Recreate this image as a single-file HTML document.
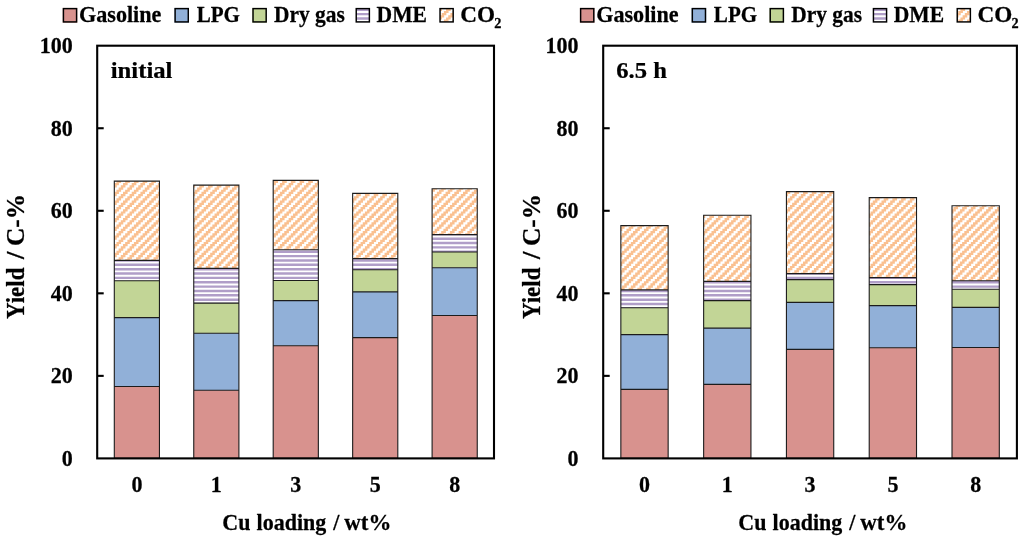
<!DOCTYPE html>
<html><head><meta charset="utf-8"><title>Yield vs Cu loading</title>
<style>
html,body{margin:0;padding:0;background:#fff;}
body{width:1024px;height:537px;overflow:hidden;}
svg{display:block;will-change:transform;}
text{font-family:"Liberation Serif",serif;font-weight:bold;fill:#000;stroke:#000;stroke-width:0.25px;stroke-linejoin:round;}
.t22{font-size:22px;}
.t24{font-size:24.3px;}
.t14{font-size:14.3px;}
</style></head><body>
<svg width="1024" height="537" viewBox="0 0 1024 537">
<defs>
<clipPath id="cco2l">
<rect x="440.00" y="8.60" width="13.20" height="13.35"/>
<rect x="957.20" y="8.60" width="13.20" height="13.35"/>
</clipPath>
<clipPath id="cdmel">
<rect x="356.20" y="8.60" width="13.20" height="13.35"/>
<rect x="873.40" y="8.60" width="13.20" height="13.35"/>
</clipPath>
<clipPath id="cco2">
<rect x="114.30" y="181.10" width="45.15" height="79.30"/>
<rect x="193.75" y="185.10" width="45.15" height="83.30"/>
<rect x="273.20" y="180.40" width="45.15" height="69.40"/>
<rect x="352.65" y="193.40" width="45.15" height="65.20"/>
<rect x="432.10" y="188.70" width="45.15" height="45.90"/>
<rect x="620.85" y="225.60" width="47.30" height="64.30"/>
<rect x="703.64" y="215.30" width="47.30" height="66.10"/>
<rect x="786.43" y="191.60" width="47.30" height="82.00"/>
<rect x="869.22" y="197.60" width="47.30" height="80.00"/>
<rect x="952.01" y="205.80" width="47.30" height="75.00"/>
</clipPath>
<clipPath id="cdme">
<rect x="114.30" y="260.40" width="45.15" height="20.30"/>
<rect x="193.75" y="268.40" width="45.15" height="34.70"/>
<rect x="273.20" y="249.80" width="45.15" height="30.70"/>
<rect x="352.65" y="258.60" width="45.15" height="11.10"/>
<rect x="432.10" y="234.60" width="45.15" height="17.40"/>
<rect x="620.85" y="289.90" width="47.30" height="17.80"/>
<rect x="703.64" y="281.40" width="47.30" height="19.20"/>
<rect x="786.43" y="273.60" width="47.30" height="6.00"/>
<rect x="869.22" y="277.60" width="47.30" height="7.00"/>
<rect x="952.01" y="280.80" width="47.30" height="8.50"/>
</clipPath>
</defs>
<rect x="0" y="0" width="1024" height="537" fill="#fff"/>
<rect x="114.30" y="280.70" width="45.15" height="36.90" fill="#C2D596"/>
<rect x="114.30" y="317.60" width="45.15" height="68.90" fill="#91B0D8"/>
<rect x="114.30" y="386.50" width="45.15" height="71.90" fill="#D8928E"/>
<rect x="193.75" y="303.10" width="45.15" height="30.10" fill="#C2D596"/>
<rect x="193.75" y="333.20" width="45.15" height="57.10" fill="#91B0D8"/>
<rect x="193.75" y="390.30" width="45.15" height="68.10" fill="#D8928E"/>
<rect x="273.20" y="280.50" width="45.15" height="20.10" fill="#C2D596"/>
<rect x="273.20" y="300.60" width="45.15" height="45.20" fill="#91B0D8"/>
<rect x="273.20" y="345.80" width="45.15" height="112.60" fill="#D8928E"/>
<rect x="352.65" y="269.70" width="45.15" height="22.20" fill="#C2D596"/>
<rect x="352.65" y="291.90" width="45.15" height="45.70" fill="#91B0D8"/>
<rect x="352.65" y="337.60" width="45.15" height="120.80" fill="#D8928E"/>
<rect x="432.10" y="252.00" width="45.15" height="15.70" fill="#C2D596"/>
<rect x="432.10" y="267.70" width="45.15" height="47.80" fill="#91B0D8"/>
<rect x="432.10" y="315.50" width="45.15" height="142.90" fill="#D8928E"/>
<rect x="62.70" y="7.90" width="14.60" height="14.75" fill="#D8928E"/>
<rect x="174.40" y="7.90" width="14.60" height="14.75" fill="#91B0D8"/>
<rect x="252.30" y="7.90" width="14.60" height="14.75" fill="#C2D596"/>
<rect x="620.85" y="307.70" width="47.30" height="26.90" fill="#C2D596"/>
<rect x="620.85" y="334.60" width="47.30" height="54.80" fill="#91B0D8"/>
<rect x="620.85" y="389.40" width="47.30" height="69.00" fill="#D8928E"/>
<rect x="703.64" y="300.60" width="47.30" height="27.50" fill="#C2D596"/>
<rect x="703.64" y="328.10" width="47.30" height="56.30" fill="#91B0D8"/>
<rect x="703.64" y="384.40" width="47.30" height="74.00" fill="#D8928E"/>
<rect x="786.43" y="279.60" width="47.30" height="22.80" fill="#C2D596"/>
<rect x="786.43" y="302.40" width="47.30" height="47.00" fill="#91B0D8"/>
<rect x="786.43" y="349.40" width="47.30" height="109.00" fill="#D8928E"/>
<rect x="869.22" y="284.60" width="47.30" height="21.00" fill="#C2D596"/>
<rect x="869.22" y="305.60" width="47.30" height="42.20" fill="#91B0D8"/>
<rect x="869.22" y="347.80" width="47.30" height="110.60" fill="#D8928E"/>
<rect x="952.01" y="289.30" width="47.30" height="18.10" fill="#C2D596"/>
<rect x="952.01" y="307.40" width="47.30" height="40.10" fill="#91B0D8"/>
<rect x="952.01" y="347.50" width="47.30" height="110.90" fill="#D8928E"/>
<rect x="579.90" y="7.90" width="14.60" height="14.75" fill="#D8928E"/>
<rect x="691.60" y="7.90" width="14.60" height="14.75" fill="#91B0D8"/>
<rect x="769.50" y="7.90" width="14.60" height="14.75" fill="#C2D596"/>
<path clip-path="url(#cdme)" fill="#B09EC8" d="M0 2.055H1024V4.484H0ZM0 6.414H1024V8.843H0ZM0 10.773H1024V13.203H0ZM0 15.132H1024V17.562H0ZM0 19.491H1024V21.921H0ZM0 23.851H1024V26.280H0ZM0 28.210H1024V30.639H0ZM0 32.569H1024V34.999H0ZM0 36.928H1024V39.358H0ZM0 41.287H1024V43.717H0ZM0 45.647H1024V48.076H0ZM0 50.006H1024V52.435H0ZM0 54.365H1024V56.795H0ZM0 58.724H1024V61.154H0ZM0 63.083H1024V65.513H0ZM0 67.443H1024V69.872H0ZM0 71.802H1024V74.231H0ZM0 76.161H1024V78.591H0ZM0 80.520H1024V82.950H0ZM0 84.879H1024V87.309H0ZM0 89.239H1024V91.668H0ZM0 93.598H1024V96.027H0ZM0 97.957H1024V100.387H0ZM0 102.316H1024V104.746H0ZM0 106.675H1024V109.105H0ZM0 111.035H1024V113.464H0ZM0 115.394H1024V117.823H0ZM0 119.753H1024V122.183H0ZM0 124.112H1024V126.542H0ZM0 128.471H1024V130.901H0ZM0 132.831H1024V135.260H0ZM0 137.190H1024V139.619H0ZM0 141.549H1024V143.979H0ZM0 145.908H1024V148.338H0ZM0 150.267H1024V152.697H0ZM0 154.627H1024V157.056H0ZM0 158.986H1024V161.415H0ZM0 163.345H1024V165.775H0ZM0 167.704H1024V170.134H0ZM0 172.063H1024V174.493H0ZM0 176.423H1024V178.852H0ZM0 180.782H1024V183.211H0ZM0 185.141H1024V187.571H0ZM0 189.500H1024V191.930H0ZM0 193.859H1024V196.289H0ZM0 198.219H1024V200.648H0ZM0 202.578H1024V205.007H0ZM0 206.937H1024V209.367H0ZM0 211.296H1024V213.726H0ZM0 215.655H1024V218.085H0ZM0 220.015H1024V222.444H0ZM0 224.374H1024V226.803H0ZM0 228.733H1024V231.163H0ZM0 233.092H1024V235.522H0ZM0 237.451H1024V239.881H0ZM0 241.811H1024V244.240H0ZM0 246.170H1024V248.599H0ZM0 250.529H1024V252.959H0ZM0 254.888H1024V257.318H0ZM0 259.247H1024V261.677H0ZM0 263.607H1024V266.036H0ZM0 267.966H1024V270.395H0ZM0 272.325H1024V274.755H0ZM0 276.684H1024V279.114H0ZM0 281.043H1024V283.473H0ZM0 285.403H1024V287.832H0ZM0 289.762H1024V292.191H0ZM0 294.121H1024V296.551H0ZM0 298.480H1024V300.910H0ZM0 302.839H1024V305.269H0ZM0 307.199H1024V309.628H0ZM0 311.558H1024V313.987H0ZM0 315.917H1024V318.347H0ZM0 320.276H1024V322.706H0ZM0 324.635H1024V327.065H0ZM0 328.995H1024V331.424H0ZM0 333.354H1024V335.783H0ZM0 337.713H1024V340.143H0ZM0 342.072H1024V344.502H0ZM0 346.431H1024V348.861H0ZM0 350.791H1024V353.220H0ZM0 355.150H1024V357.579H0ZM0 359.509H1024V361.939H0ZM0 363.868H1024V366.298H0ZM0 368.227H1024V370.657H0ZM0 372.587H1024V375.016H0ZM0 376.946H1024V379.375H0ZM0 381.305H1024V383.735H0ZM0 385.664H1024V388.094H0ZM0 390.023H1024V392.453H0ZM0 394.383H1024V396.812H0ZM0 398.742H1024V401.171H0ZM0 403.101H1024V405.531H0ZM0 407.460H1024V409.890H0ZM0 411.819H1024V414.249H0ZM0 416.179H1024V418.608H0ZM0 420.538H1024V422.967H0ZM0 424.897H1024V427.327H0ZM0 429.256H1024V431.686H0ZM0 433.615H1024V436.045H0ZM0 437.975H1024V440.404H0ZM0 442.334H1024V444.763H0ZM0 446.693H1024V449.123H0ZM0 451.052H1024V453.482H0ZM0 455.411H1024V457.841H0ZM0 459.771H1024V462.200H0ZM0 464.130H1024V466.559H0ZM0 468.489H1024V470.919H0ZM0 472.848H1024V475.278H0ZM0 477.207H1024V479.637H0ZM0 481.567H1024V483.996H0ZM0 485.926H1024V488.355H0ZM0 490.285H1024V492.715H0ZM0 494.644H1024V497.074H0ZM0 499.003H1024V501.433H0ZM0 503.363H1024V505.792H0ZM0 507.722H1024V510.151H0ZM0 512.081H1024V514.511H0ZM0 516.440H1024V518.870H0ZM0 520.799H1024V523.229H0ZM0 525.159H1024V527.588H0ZM0 529.518H1024V531.947H0ZM0 533.877H1024V536.307H0Z"/>
<defs><path id="st" d="M-0.15 0v2.1796h-2.1796v2.1796h-2.1796v2.1796h-2.1796v2.1796h-2.1796v2.1796h-2.1796v2.1796h-2.1796v2.1796h-2.1796v2.1796h-2.1796v2.1796h-2.1796v2.1796h-2.1796v2.1796h-2.1796v2.1796h-2.1796v2.1796h-2.1796v2.1796h-2.1796v2.1796h-2.1796v2.1796h-2.1796v2.1796h-2.1796v2.1796h-2.1796v2.1796h-2.1796v2.1796h-2.1796v2.1796h-2.1796v2.1796h-2.1796v2.1796h-2.1796v2.1796h-2.1796v2.1796h-2.1796v2.1796h-2.1796v2.1796h-2.1796v2.1796h-2.1796v2.1796h-2.1796v2.1796h-2.1796v2.1796h-2.1796v2.1796h-2.1796v2.1796h-2.1796v2.1796h-2.1796v2.1796h-2.1796v2.1796h-2.1796v2.1796h-2.1796v2.1796h-2.1796v2.1796h-2.1796v2.1796h-2.1796v2.1796h-2.1796v2.1796h-2.1796v2.1796h-2.1796v2.1796h-2.1796v2.1796h-2.1796v2.1796h-2.1796v2.1796h-2.1796v2.1796h-2.1796v2.1796h-2.1796v2.1796h-2.1796v2.1796h-2.1796v2.1796h-2.1796v2.1796h-2.1796v2.1796h-2.1796v2.1796h-2.1796v2.1796h-2.1796v2.1796h-2.1796v2.1796h-2.1796v2.1796h-2.1796v2.1796h-2.1796v2.1796h-2.1796v2.1796h-2.1796v2.1796h-2.1796v2.1796h-2.1796v2.1796h-2.1796v2.1796h-2.1796v2.1796h-2.1796v2.1796h-2.1796v2.1796h-2.1796v2.1796h-2.1796v2.1796h-2.1796v2.1796h-2.1796v2.1796h-2.1796v2.1796h-2.1796v2.1796h-2.1796v2.1796h-2.1796v2.1796h-2.1796v2.1796h-2.1796v2.1796h-2.1796v2.1796h-2.1796v2.1796h-2.1796v2.1796h-2.1796v2.1796h-2.1796v2.1796h-2.1796v2.1796h-2.1796v2.1796h-2.1796v2.1796h-2.1796v2.1796h-2.1796v2.1796h-2.1796v2.1796h-2.1796v2.1796h-2.1796v2.1796h-2.1796v2.1796h-2.1796v2.1796h-2.1796v2.1796h-2.1796v2.1796h-2.1796v2.1796h-2.1796v2.1796h-2.1796v2.1796h-2.1796v2.1796h-2.1796v2.1796h-2.1796v2.1796h-2.1796v2.1796h-2.1796v2.1796h-2.1796v2.1796h-2.1796v2.1796h-2.1796v2.1796h-2.1796v2.1796h-2.1796v2.1796h-2.1796v2.1796h-2.1796v2.1796h-2.1796v2.1796h-2.1796v2.1796h-2.1796v2.1796h-2.1796v2.1796h-2.1796v2.1796h-2.1796v2.1796h-2.1796v2.1796h-2.1796v2.1796h-2.1796v2.1796h-2.1796v2.1796h-2.1796v2.1796h-2.1796v2.1796h-2.1796v2.1796h-2.1796v2.1796h-2.1796v2.1796h-2.1796v2.1796h-2.1796v2.1796h-2.1796v2.1796h-2.1796v2.1796h-2.1796v2.1796h-2.1796v2.1796h-2.1796v2.1796h-2.1796v2.1796h-2.1796v2.1796h-2.1796v2.1796h-2.1796v2.1796h-2.1796v2.1796h-2.1796v2.1796h-2.1796v2.1796h-2.1796v2.1796h-2.1796v2.1796h-2.1796v2.1796h-2.1796v2.1796h-2.1796v2.1796h-2.1796v2.1796h-2.1796v2.1796h-2.1796v2.1796h-2.1796v2.1796h-2.1796v2.1796h-2.1796v2.1796h-2.1796v2.1796h-2.1796v2.1796h-2.1796v2.1796h-2.1796v2.1796h-2.1796v2.1796h-2.1796v2.1796h-2.1796v2.1796h-2.1796v2.1796h-2.1796v2.1796h-2.1796v2.1796h-2.1796v2.1796h-2.1796v2.1796h-2.1796v2.1796h-2.1796v2.1796h-2.1796v2.1796h-2.1796v2.1796h-2.1796v2.1796h-2.1796v2.1796h-2.1796v2.1796h-2.1796v2.1796h-2.1796v2.1796h-2.1796v2.1796h-2.1796v2.1796h-2.1796v2.1796h-2.1796v2.1796h-2.1796v2.1796h-2.1796v2.1796h-2.1796v2.1796h-2.1796v2.1796h-2.1796v2.1796h-2.1796v2.1796h-2.1796v2.1796h-2.1796v2.1796h-2.1796v2.1796h-2.1796v2.1796h-2.1796v2.1796h-2.1796v2.1796h-2.1796v2.1796h-2.1796v2.1796h-2.1796v2.1796h-2.1796v2.1796h-2.1796v2.1796h-2.1796v2.1796h-2.1796v2.1796h-2.1796v2.1796h-2.1796v2.1796h-2.1796v2.1796h-2.1796v2.1796h-2.1796v2.1796h-2.1796v2.1796h-2.1796v2.1796h-2.1796v2.1796h-2.1796v2.1796h-2.1796v2.1796h-2.1796v2.1796h-2.1796v2.1796h-2.1796v2.1796h-2.1796v2.1796h-2.1796v2.1796h-2.1796v2.1796h-2.1796v2.1796h-2.1796v2.1796h-2.1796v2.1796h-2.1796v2.1796h-2.1796v2.1796h-2.1796v2.1796h-2.1796v2.1796h-2.1796v2.1796h-2.1796v2.1796h-2.1796v2.1796h-2.1796v2.1796h-2.1796v2.1796h-2.1796v2.1796h-2.1796v2.1796h-2.1796v2.1796h-2.1796v2.1796h-2.1796v2.1796h-2.1796v2.1796h-2.1796v2.1796h-2.1796v2.1796h-2.1796v2.1796h-2.1796v2.1796h-2.1796v2.1796h-2.1796v2.1796h-2.1796v2.1796h-2.1796v2.1796h-2.1796v2.1796h-2.1796v2.1796h-2.1796v2.1796h-2.1796v2.1796h-2.1796v2.1796h-2.1796v2.1796h-2.1796v2.1796h-2.1796v2.1796h-2.1796v2.1796h-2.1796v2.1796h-2.1796v2.1796h4.6592v-2.1796h2.1796v-2.1796h2.1796v-2.1796h2.1796v-2.1796h2.1796v-2.1796h2.1796v-2.1796h2.1796v-2.1796h2.1796v-2.1796h2.1796v-2.1796h2.1796v-2.1796h2.1796v-2.1796h2.1796v-2.1796h2.1796v-2.1796h2.1796v-2.1796h2.1796v-2.1796h2.1796v-2.1796h2.1796v-2.1796h2.1796v-2.1796h2.1796v-2.1796h2.1796v-2.1796h2.1796v-2.1796h2.1796v-2.1796h2.1796v-2.1796h2.1796v-2.1796h2.1796v-2.1796h2.1796v-2.1796h2.1796v-2.1796h2.1796v-2.1796h2.1796v-2.1796h2.1796v-2.1796h2.1796v-2.1796h2.1796v-2.1796h2.1796v-2.1796h2.1796v-2.1796h2.1796v-2.1796h2.1796v-2.1796h2.1796v-2.1796h2.1796v-2.1796h2.1796v-2.1796h2.1796v-2.1796h2.1796v-2.1796h2.1796v-2.1796h2.1796v-2.1796h2.1796v-2.1796h2.1796v-2.1796h2.1796v-2.1796h2.1796v-2.1796h2.1796v-2.1796h2.1796v-2.1796h2.1796v-2.1796h2.1796v-2.1796h2.1796v-2.1796h2.1796v-2.1796h2.1796v-2.1796h2.1796v-2.1796h2.1796v-2.1796h2.1796v-2.1796h2.1796v-2.1796h2.1796v-2.1796h2.1796v-2.1796h2.1796v-2.1796h2.1796v-2.1796h2.1796v-2.1796h2.1796v-2.1796h2.1796v-2.1796h2.1796v-2.1796h2.1796v-2.1796h2.1796v-2.1796h2.1796v-2.1796h2.1796v-2.1796h2.1796v-2.1796h2.1796v-2.1796h2.1796v-2.1796h2.1796v-2.1796h2.1796v-2.1796h2.1796v-2.1796h2.1796v-2.1796h2.1796v-2.1796h2.1796v-2.1796h2.1796v-2.1796h2.1796v-2.1796h2.1796v-2.1796h2.1796v-2.1796h2.1796v-2.1796h2.1796v-2.1796h2.1796v-2.1796h2.1796v-2.1796h2.1796v-2.1796h2.1796v-2.1796h2.1796v-2.1796h2.1796v-2.1796h2.1796v-2.1796h2.1796v-2.1796h2.1796v-2.1796h2.1796v-2.1796h2.1796v-2.1796h2.1796v-2.1796h2.1796v-2.1796h2.1796v-2.1796h2.1796v-2.1796h2.1796v-2.1796h2.1796v-2.1796h2.1796v-2.1796h2.1796v-2.1796h2.1796v-2.1796h2.1796v-2.1796h2.1796v-2.1796h2.1796v-2.1796h2.1796v-2.1796h2.1796v-2.1796h2.1796v-2.1796h2.1796v-2.1796h2.1796v-2.1796h2.1796v-2.1796h2.1796v-2.1796h2.1796v-2.1796h2.1796v-2.1796h2.1796v-2.1796h2.1796v-2.1796h2.1796v-2.1796h2.1796v-2.1796h2.1796v-2.1796h2.1796v-2.1796h2.1796v-2.1796h2.1796v-2.1796h2.1796v-2.1796h2.1796v-2.1796h2.1796v-2.1796h2.1796v-2.1796h2.1796v-2.1796h2.1796v-2.1796h2.1796v-2.1796h2.1796v-2.1796h2.1796v-2.1796h2.1796v-2.1796h2.1796v-2.1796h2.1796v-2.1796h2.1796v-2.1796h2.1796v-2.1796h2.1796v-2.1796h2.1796v-2.1796h2.1796v-2.1796h2.1796v-2.1796h2.1796v-2.1796h2.1796v-2.1796h2.1796v-2.1796h2.1796v-2.1796h2.1796v-2.1796h2.1796v-2.1796h2.1796v-2.1796h2.1796v-2.1796h2.1796v-2.1796h2.1796v-2.1796h2.1796v-2.1796h2.1796v-2.1796h2.1796v-2.1796h2.1796v-2.1796h2.1796v-2.1796h2.1796v-2.1796h2.1796v-2.1796h2.1796v-2.1796h2.1796v-2.1796h2.1796v-2.1796h2.1796v-2.1796h2.1796v-2.1796h2.1796v-2.1796h2.1796v-2.1796h2.1796v-2.1796h2.1796v-2.1796h2.1796v-2.1796h2.1796v-2.1796h2.1796v-2.1796h2.1796v-2.1796h2.1796v-2.1796h2.1796v-2.1796h2.1796v-2.1796h2.1796v-2.1796h2.1796v-2.1796h2.1796v-2.1796h2.1796v-2.1796h2.1796v-2.1796h2.1796v-2.1796h2.1796v-2.1796h2.1796v-2.1796h2.1796v-2.1796h2.1796v-2.1796h2.1796v-2.1796h2.1796v-2.1796h2.1796v-2.1796h2.1796v-2.1796h2.1796v-2.1796h2.1796v-2.1796h2.1796v-2.1796h2.1796v-2.1796h2.1796v-2.1796h2.1796v-2.1796h2.1796v-2.1796h2.1796v-2.1796h2.1796v-2.1796h2.1796v-2.1796h2.1796v-2.1796h2.1796v-2.1796h2.1796v-2.1796h2.1796v-2.1796h2.1796v-2.1796h2.1796v-2.1796h2.1796v-2.1796h2.1796v-2.1796h2.1796v-2.1796h2.1796v-2.1796h2.1796v-2.1796h2.1796v-2.1796h2.1796v-2.1796h2.1796v-2.1796h2.1796v-2.1796h2.1796v-2.1796h2.1796v-2.1796h2.1796v-2.1796h2.1796v-2.1796h2.1796v-2.1796h2.1796v-2.1796h2.1796v-2.1796h2.1796v-2.1796h2.1796v-2.1796h2.1796v-2.1796h2.1796v-2.1796h2.1796v-2.1796h2.1796v-2.1796h2.1796v-2.1796h2.1796v-2.1796h2.1796v-2.1796h2.1796v-2.1796h2.1796v-2.1796h2.1796v-2.1796h2.1796v-2.1796h2.1796v-2.1796h2.1796v-2.1796h2.1796v-2.1796h2.1796v-2.1796h2.1796v-2.1796h2.1796v-2.1796h2.1796v-2.1796h2.1796v-2.1796h2.1796v-2.1796h2.1796v-2.1796h2.1796v-2.1796h2.1796v-2.1796h2.1796v-2.1796z"/></defs>
<g clip-path="url(#cco2)" fill="#FAC090">
<use href="#st" x="1.070"/>
<use href="#st" x="9.788"/>
<use href="#st" x="18.507"/>
<use href="#st" x="27.225"/>
<use href="#st" x="35.944"/>
<use href="#st" x="44.662"/>
<use href="#st" x="53.380"/>
<use href="#st" x="62.099"/>
<use href="#st" x="70.817"/>
<use href="#st" x="79.536"/>
<use href="#st" x="88.254"/>
<use href="#st" x="96.972"/>
<use href="#st" x="105.691"/>
<use href="#st" x="114.409"/>
<use href="#st" x="123.128"/>
<use href="#st" x="131.846"/>
<use href="#st" x="140.564"/>
<use href="#st" x="149.283"/>
<use href="#st" x="158.001"/>
<use href="#st" x="166.720"/>
<use href="#st" x="175.438"/>
<use href="#st" x="184.156"/>
<use href="#st" x="192.875"/>
<use href="#st" x="201.593"/>
<use href="#st" x="210.312"/>
<use href="#st" x="219.030"/>
<use href="#st" x="227.748"/>
<use href="#st" x="236.467"/>
<use href="#st" x="245.185"/>
<use href="#st" x="253.904"/>
<use href="#st" x="262.622"/>
<use href="#st" x="271.340"/>
<use href="#st" x="280.059"/>
<use href="#st" x="288.777"/>
<use href="#st" x="297.496"/>
<use href="#st" x="306.214"/>
<use href="#st" x="314.932"/>
<use href="#st" x="323.651"/>
<use href="#st" x="332.369"/>
<use href="#st" x="341.088"/>
<use href="#st" x="349.806"/>
<use href="#st" x="358.524"/>
<use href="#st" x="367.243"/>
<use href="#st" x="375.961"/>
<use href="#st" x="384.680"/>
<use href="#st" x="393.398"/>
<use href="#st" x="402.116"/>
<use href="#st" x="410.835"/>
<use href="#st" x="419.553"/>
<use href="#st" x="428.272"/>
<use href="#st" x="436.990"/>
<use href="#st" x="445.708"/>
<use href="#st" x="454.427"/>
<use href="#st" x="463.145"/>
<use href="#st" x="471.864"/>
<use href="#st" x="480.582"/>
<use href="#st" x="489.300"/>
<use href="#st" x="498.019"/>
<use href="#st" x="506.737"/>
<use href="#st" x="515.456"/>
<use href="#st" x="524.174"/>
<use href="#st" x="532.892"/>
<use href="#st" x="541.611"/>
<use href="#st" x="550.329"/>
<use href="#st" x="559.048"/>
<use href="#st" x="567.766"/>
<use href="#st" x="576.484"/>
<use href="#st" x="585.203"/>
<use href="#st" x="593.921"/>
<use href="#st" x="602.640"/>
<use href="#st" x="611.358"/>
<use href="#st" x="620.076"/>
<use href="#st" x="628.795"/>
<use href="#st" x="637.513"/>
<use href="#st" x="646.232"/>
<use href="#st" x="654.950"/>
<use href="#st" x="663.668"/>
<use href="#st" x="672.387"/>
<use href="#st" x="681.105"/>
<use href="#st" x="689.824"/>
<use href="#st" x="698.542"/>
<use href="#st" x="707.260"/>
<use href="#st" x="715.979"/>
<use href="#st" x="724.697"/>
<use href="#st" x="733.416"/>
<use href="#st" x="742.134"/>
<use href="#st" x="750.852"/>
<use href="#st" x="759.571"/>
<use href="#st" x="768.289"/>
<use href="#st" x="777.008"/>
<use href="#st" x="785.726"/>
<use href="#st" x="794.444"/>
<use href="#st" x="803.163"/>
<use href="#st" x="811.881"/>
<use href="#st" x="820.600"/>
<use href="#st" x="829.318"/>
<use href="#st" x="838.036"/>
<use href="#st" x="846.755"/>
<use href="#st" x="855.473"/>
<use href="#st" x="864.192"/>
<use href="#st" x="872.910"/>
<use href="#st" x="881.628"/>
<use href="#st" x="890.347"/>
<use href="#st" x="899.065"/>
<use href="#st" x="907.784"/>
<use href="#st" x="916.502"/>
<use href="#st" x="925.220"/>
<use href="#st" x="933.939"/>
<use href="#st" x="942.657"/>
<use href="#st" x="951.376"/>
<use href="#st" x="960.094"/>
<use href="#st" x="968.812"/>
<use href="#st" x="977.531"/>
<use href="#st" x="986.249"/>
<use href="#st" x="994.968"/>
<use href="#st" x="1003.686"/>
<use href="#st" x="1012.404"/>
<use href="#st" x="1021.123"/>
<use href="#st" x="1029.841"/>
<use href="#st" x="1038.560"/>
<use href="#st" x="1047.278"/>
<use href="#st" x="1055.996"/>
<use href="#st" x="1064.715"/>
<use href="#st" x="1073.433"/>
<use href="#st" x="1082.152"/>
<use href="#st" x="1090.870"/>
<use href="#st" x="1099.588"/>
<use href="#st" x="1108.307"/>
<use href="#st" x="1117.025"/>
<use href="#st" x="1125.744"/>
<use href="#st" x="1134.462"/>
<use href="#st" x="1143.180"/>
<use href="#st" x="1151.899"/>
<use href="#st" x="1160.617"/>
<use href="#st" x="1169.336"/>
<use href="#st" x="1178.054"/>
<use href="#st" x="1186.772"/>
<use href="#st" x="1195.491"/>
<use href="#st" x="1204.209"/>
<use href="#st" x="1212.928"/>
<use href="#st" x="1221.646"/>
<use href="#st" x="1230.364"/>
<use href="#st" x="1239.083"/>
<use href="#st" x="1247.801"/>
<use href="#st" x="1256.520"/>
<use href="#st" x="1265.238"/>
<use href="#st" x="1273.956"/>
<use href="#st" x="1282.675"/>
<use href="#st" x="1291.393"/>
<use href="#st" x="1300.112"/>
<use href="#st" x="1308.830"/>
<use href="#st" x="1317.548"/>
<use href="#st" x="1326.267"/>
<use href="#st" x="1334.985"/>
<use href="#st" x="1343.704"/>
<use href="#st" x="1352.422"/>
<use href="#st" x="1361.140"/>
<use href="#st" x="1369.859"/>
<use href="#st" x="1378.577"/>
<use href="#st" x="1387.296"/>
<use href="#st" x="1396.014"/>
<use href="#st" x="1404.732"/>
<use href="#st" x="1413.451"/>
<use href="#st" x="1422.169"/>
<use href="#st" x="1430.888"/>
<use href="#st" x="1439.606"/>
<use href="#st" x="1448.324"/>
<use href="#st" x="1457.043"/>
<use href="#st" x="1465.761"/>
<use href="#st" x="1474.480"/>
<use href="#st" x="1483.198"/>
<use href="#st" x="1491.916"/>
<use href="#st" x="1500.635"/>
<use href="#st" x="1509.353"/>
<use href="#st" x="1518.072"/>
<use href="#st" x="1526.790"/>
<use href="#st" x="1535.508"/>
<use href="#st" x="1544.227"/>
<use href="#st" x="1552.945"/>
<use href="#st" x="1561.664"/>
</g>
<path clip-path="url(#cdmel)" fill="#B09EC8" d="M0 8.535H1024V10.965H0ZM0 12.895H1024V15.325H0ZM0 17.255H1024V19.685H0ZM0 21.615H1024V24.045H0Z"/>
<g clip-path="url(#cco2l)" fill="#FAC090" transform="translate(0,0)">
<use href="#st" x="437.490"/>
<use href="#st" x="446.208"/>
<use href="#st" x="454.927"/>
<use href="#st" x="463.645"/>
<use href="#st" x="472.364"/>
<use href="#st" x="481.082"/>
<use href="#st" x="951.876"/>
<use href="#st" x="960.594"/>
<use href="#st" x="969.312"/>
<use href="#st" x="978.031"/>
<use href="#st" x="986.749"/>
<use href="#st" x="995.468"/>
</g>
<path d="M114.30 181.10H159.45V458.40H114.30ZM114.30 260.40H159.45M114.30 280.70H159.45M114.30 317.60H159.45M114.30 386.50H159.45" fill="none" stroke="#1c1c1c" stroke-width="1.10"/>
<path d="M193.75 185.10H238.90V458.40H193.75ZM193.75 268.40H238.90M193.75 303.10H238.90M193.75 333.20H238.90M193.75 390.30H238.90" fill="none" stroke="#1c1c1c" stroke-width="1.10"/>
<path d="M273.20 180.40H318.35V458.40H273.20ZM273.20 249.80H318.35M273.20 280.50H318.35M273.20 300.60H318.35M273.20 345.80H318.35" fill="none" stroke="#1c1c1c" stroke-width="1.10"/>
<path d="M352.65 193.40H397.80V458.40H352.65ZM352.65 258.60H397.80M352.65 269.70H397.80M352.65 291.90H397.80M352.65 337.60H397.80" fill="none" stroke="#1c1c1c" stroke-width="1.10"/>
<path d="M432.10 188.70H477.25V458.40H432.10ZM432.10 234.60H477.25M432.10 252.00H477.25M432.10 267.70H477.25M432.10 315.50H477.25" fill="none" stroke="#1c1c1c" stroke-width="1.10"/>
<rect x="63.43" y="8.62" width="13.15" height="13.30" fill="none" stroke="#000" stroke-width="1.45"/>
<rect x="175.12" y="8.62" width="13.15" height="13.30" fill="none" stroke="#000" stroke-width="1.45"/>
<rect x="253.03" y="8.62" width="13.15" height="13.30" fill="none" stroke="#000" stroke-width="1.45"/>
<rect x="356.23" y="8.62" width="13.15" height="13.30" fill="none" stroke="#000" stroke-width="1.45"/>
<rect x="440.03" y="8.62" width="13.15" height="13.30" fill="none" stroke="#000" stroke-width="1.45"/>
<path d="M620.85 225.60H668.15V458.40H620.85ZM620.85 289.90H668.15M620.85 307.70H668.15M620.85 334.60H668.15M620.85 389.40H668.15" fill="none" stroke="#1c1c1c" stroke-width="1.10"/>
<path d="M703.64 215.30H750.94V458.40H703.64ZM703.64 281.40H750.94M703.64 300.60H750.94M703.64 328.10H750.94M703.64 384.40H750.94" fill="none" stroke="#1c1c1c" stroke-width="1.10"/>
<path d="M786.43 191.60H833.73V458.40H786.43ZM786.43 273.60H833.73M786.43 279.60H833.73M786.43 302.40H833.73M786.43 349.40H833.73" fill="none" stroke="#1c1c1c" stroke-width="1.10"/>
<path d="M869.22 197.60H916.52V458.40H869.22ZM869.22 277.60H916.52M869.22 284.60H916.52M869.22 305.60H916.52M869.22 347.80H916.52" fill="none" stroke="#1c1c1c" stroke-width="1.10"/>
<path d="M952.01 205.80H999.31V458.40H952.01ZM952.01 280.80H999.31M952.01 289.30H999.31M952.01 307.40H999.31M952.01 347.50H999.31" fill="none" stroke="#1c1c1c" stroke-width="1.10"/>
<rect x="580.63" y="8.62" width="13.15" height="13.30" fill="none" stroke="#000" stroke-width="1.45"/>
<rect x="692.33" y="8.62" width="13.15" height="13.30" fill="none" stroke="#000" stroke-width="1.45"/>
<rect x="770.23" y="8.62" width="13.15" height="13.30" fill="none" stroke="#000" stroke-width="1.45"/>
<rect x="873.43" y="8.62" width="13.15" height="13.30" fill="none" stroke="#000" stroke-width="1.45"/>
<rect x="957.23" y="8.62" width="13.15" height="13.30" fill="none" stroke="#000" stroke-width="1.45"/>
<rect x="97.20" y="45.70" width="396.80" height="412.70" fill="none" stroke="#000" stroke-width="2.10"/>
<text class="t22" transform="translate(72.80,465.80) scale(1.0000,1.0200)" text-anchor="end">0</text>
<line x1="97.20" y1="375.86" x2="103.70" y2="375.86" stroke="#000" stroke-width="2.10"/>
<text class="t22" transform="translate(72.80,383.26) scale(1.0000,1.0200)" text-anchor="end">20</text>
<line x1="97.20" y1="293.32" x2="103.70" y2="293.32" stroke="#000" stroke-width="2.10"/>
<text class="t22" transform="translate(72.80,300.72) scale(1.0000,1.0200)" text-anchor="end">40</text>
<line x1="97.20" y1="210.78" x2="103.70" y2="210.78" stroke="#000" stroke-width="2.10"/>
<text class="t22" transform="translate(72.80,218.18) scale(1.0000,1.0200)" text-anchor="end">60</text>
<line x1="97.20" y1="128.24" x2="103.70" y2="128.24" stroke="#000" stroke-width="2.10"/>
<text class="t22" transform="translate(72.80,135.64) scale(1.0000,1.0200)" text-anchor="end">80</text>
<text class="t22" transform="translate(72.80,53.10) scale(1.0000,1.0200)" text-anchor="end">100</text>
<text class="t22" transform="translate(136.88,491.80) scale(1.0000,1.0200)" text-anchor="middle">0</text>
<text class="t22" transform="translate(216.32,491.80) scale(1.0000,1.0200)" text-anchor="middle">1</text>
<text class="t22" transform="translate(295.77,491.80) scale(1.0000,1.0200)" text-anchor="middle">3</text>
<text class="t22" transform="translate(375.23,491.80) scale(1.0000,1.0200)" text-anchor="middle">5</text>
<text class="t22" transform="translate(454.68,491.80) scale(1.0000,1.0200)" text-anchor="middle">8</text>
<text class="t24" transform="translate(110.70,78.40) scale(1.0170,0.9600)">initial</text>
<text class="t22" transform="translate(222.30,530.20) scale(1.0000,1.0200)">Cu</text>
<text class="t22" transform="translate(256.55,530.20) scale(1.0000,1.0200)">loading</text>
<text class="t22" transform="translate(333.35,530.20) scale(1.0000,1.0200)">/</text>
<text class="t22" transform="translate(344.30,530.20) scale(1.0430,1.0200)">wt%</text>
<text class="t24" transform="translate(23.90,319.00) rotate(-90) scale(0.9450,1.0200)">Yield</text>
<text class="t24" transform="translate(23.90,259.10) rotate(-90) scale(1.1000,1.0200)">/</text>
<text class="t24" transform="translate(23.90,246.00) rotate(-90) scale(1.0400,1.0200)">C-%</text>
<text class="t22" transform="translate(79.00,22.00) scale(1.0070,1.0200)">Gasoline</text>
<text class="t22" transform="translate(196.66,22.00) scale(0.9570,1.0200)">LPG</text>
<text class="t22" transform="translate(274.06,22.00) scale(0.9740,1.0200)">Dry gas</text>
<text class="t22" transform="translate(376.55,22.00) scale(0.9840,1.0200)">DME</text>
<text class="t22" transform="translate(460.25,22.40) scale(1.0550,1.0200)">CO</text>
<text class="t14" transform="translate(494.30,27.60) scale(1.0000,1.0800)">2</text>
<rect x="603.20" y="45.70" width="413.70" height="412.70" fill="none" stroke="#000" stroke-width="2.10"/>
<text class="t22" transform="translate(578.60,465.80) scale(1.0000,1.0200)" text-anchor="end">0</text>
<line x1="603.20" y1="375.86" x2="609.70" y2="375.86" stroke="#000" stroke-width="2.10"/>
<text class="t22" transform="translate(578.60,383.26) scale(1.0000,1.0200)" text-anchor="end">20</text>
<line x1="603.20" y1="293.32" x2="609.70" y2="293.32" stroke="#000" stroke-width="2.10"/>
<text class="t22" transform="translate(578.60,300.72) scale(1.0000,1.0200)" text-anchor="end">40</text>
<line x1="603.20" y1="210.78" x2="609.70" y2="210.78" stroke="#000" stroke-width="2.10"/>
<text class="t22" transform="translate(578.60,218.18) scale(1.0000,1.0200)" text-anchor="end">60</text>
<line x1="603.20" y1="128.24" x2="609.70" y2="128.24" stroke="#000" stroke-width="2.10"/>
<text class="t22" transform="translate(578.60,135.64) scale(1.0000,1.0200)" text-anchor="end">80</text>
<text class="t22" transform="translate(578.60,53.10) scale(1.0000,1.0200)" text-anchor="end">100</text>
<text class="t22" transform="translate(644.50,491.80) scale(1.0000,1.0200)" text-anchor="middle">0</text>
<text class="t22" transform="translate(727.29,491.80) scale(1.0000,1.0200)" text-anchor="middle">1</text>
<text class="t22" transform="translate(810.08,491.80) scale(1.0000,1.0200)" text-anchor="middle">3</text>
<text class="t22" transform="translate(892.87,491.80) scale(1.0000,1.0200)" text-anchor="middle">5</text>
<text class="t22" transform="translate(975.66,491.80) scale(1.0000,1.0200)" text-anchor="middle">8</text>
<text class="t24" transform="translate(616.24,78.40) scale(1.0140,0.9600)">6.5 h</text>
<text class="t22" transform="translate(738.30,530.20) scale(1.0000,1.0200)">Cu</text>
<text class="t22" transform="translate(772.55,530.20) scale(1.0000,1.0200)">loading</text>
<text class="t22" transform="translate(849.35,530.20) scale(1.0000,1.0200)">/</text>
<text class="t22" transform="translate(860.30,530.20) scale(1.0430,1.0200)">wt%</text>
<text class="t24" transform="translate(540.40,319.00) rotate(-90) scale(0.9450,1.0200)">Yield</text>
<text class="t24" transform="translate(540.40,259.10) rotate(-90) scale(1.1000,1.0200)">/</text>
<text class="t24" transform="translate(540.40,246.00) rotate(-90) scale(1.0400,1.0200)">C-%</text>
<text class="t22" transform="translate(596.20,22.00) scale(1.0070,1.0200)">Gasoline</text>
<text class="t22" transform="translate(713.86,22.00) scale(0.9570,1.0200)">LPG</text>
<text class="t22" transform="translate(791.26,22.00) scale(0.9740,1.0200)">Dry gas</text>
<text class="t22" transform="translate(893.75,22.00) scale(0.9840,1.0200)">DME</text>
<text class="t22" transform="translate(977.45,22.40) scale(1.0550,1.0200)">CO</text>
<text class="t14" transform="translate(1011.50,27.60) scale(1.0000,1.0800)">2</text>
</svg>
</body></html>
